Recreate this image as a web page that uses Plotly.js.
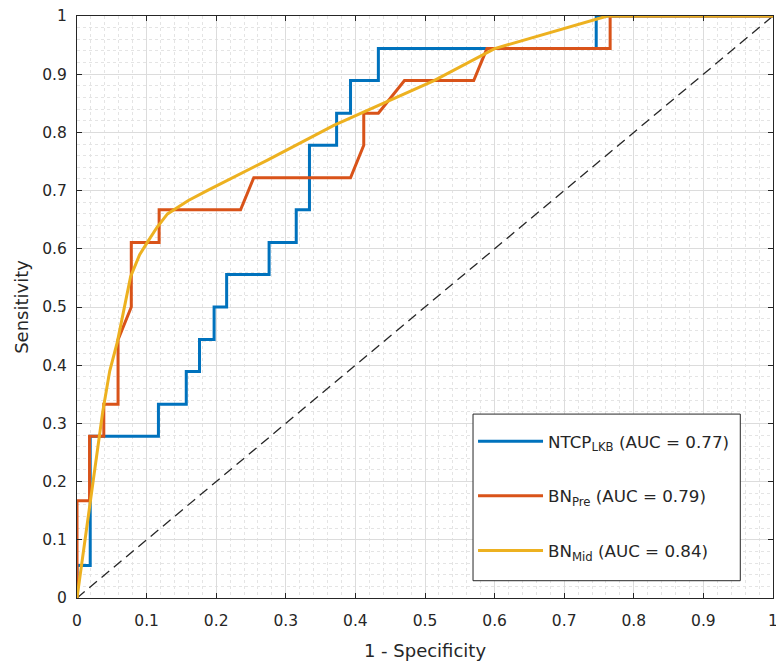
<!DOCTYPE html>
<html>
<head>
<meta charset="utf-8">
<script src="https://cdn.plot.ly/plotly-3.0.1.min.js"></script>
<style>html,body{margin:0;padding:0;background:#fff;}#chart{width:776px;height:662px;}</style>
</head>
<body>
<div id="chart"></div>
<script>
// ROC curve data (1 - Specificity, Sensitivity)
var lkbX = [0, 0, 0.019, 0.019, 0.117, 0.117, 0.157, 0.157, 0.176, 0.176, 0.197, 0.197, 0.215, 0.215, 0.276, 0.276, 0.315, 0.315, 0.334, 0.334, 0.373, 0.373, 0.393, 0.393, 0.433, 0.433, 0.746, 0.746, 1];
var lkbY = [0, 0.056, 0.056, 0.278, 0.278, 0.333, 0.333, 0.389, 0.389, 0.444, 0.444, 0.5, 0.5, 0.556, 0.556, 0.611, 0.611, 0.667, 0.667, 0.778, 0.778, 0.833, 0.833, 0.889, 0.889, 0.944, 0.944, 1, 1];

var preX = [0, 0, 0.018, 0.018, 0.0385, 0.0385, 0.059, 0.059, 0.078, 0.078, 0.118, 0.118, 0.235, 0.254, 0.393, 0.412, 0.412, 0.433, 0.4705, 0.570, 0.589, 0.766, 0.766, 1];
var preY = [0, 0.167, 0.167, 0.278, 0.278, 0.333, 0.333, 0.444, 0.5, 0.611, 0.611, 0.667, 0.667, 0.722, 0.722, 0.778, 0.833, 0.833, 0.889, 0.889, 0.944, 0.944, 1, 1];

var midX = [0, 0.037, 0.047, 0.058, 0.077, 0.09, 0.101, 0.115, 0.13, 0.16, 0.187, 0.273, 0.369, 0.513, 0.6, 0.762, 1];
var midY = [0, 0.32, 0.39, 0.44, 0.552, 0.59, 0.611, 0.637, 0.66, 0.683, 0.70, 0.752, 0.812, 0.889, 0.944, 1, 1];

var refX = [0, 1];
var refY = [0, 1];

var tickVals = [0, 0.1, 0.2, 0.3, 0.4, 0.5, 0.6, 0.7, 0.8, 0.9, 1];
var tickText = ["0", "0.1", "0.2", "0.3", "0.4", "0.5", "0.6", "0.7", "0.8", "0.9", "1"];

var seriesNames = ["NTCP<sub>LKB</sub> (AUC = 0.77)", "BN<sub>Pre</sub> (AUC = 0.79)", "BN<sub>Mid</sub> (AUC = 0.84)"];

var FONT = 'DejaVu Sans, Verdana, sans-serif';

var traces = [
  {x: refX, y: refY, mode: 'lines', showlegend: false, hoverinfo: 'skip',
   line: {color: '#262626', width: 1.3, dash: '10px,6px'}},
  {x: lkbX, y: lkbY, mode: 'lines', name: seriesNames[0], legendgroup: 'a',
   line: {color: '#0072BD', width: 3}},
  {x: preX, y: preY, mode: 'lines', name: seriesNames[1], legendgroup: 'b',
   line: {color: '#D95319', width: 3}},
  {x: midX, y: midY, mode: 'lines', name: seriesNames[2], legendgroup: 'c',
   line: {color: '#EDB120', width: 3}}
];

var axisCommon = {
  range: [0, 1], tickvals: tickVals, ticktext: tickText,
  showline: true, linecolor: '#262626', linewidth: 1, mirror: 'ticks',
  ticks: 'inside', ticklen: 5, tickcolor: '#262626', tickwidth: 1,
  showgrid: true, gridcolor: '#dcdcdc', gridwidth: 1, zeroline: false,
  ticklabeloverflow: 'allow',
  tickfont: {family: FONT, size: 15.5, color: '#262626'},
  minor: {dtick: 0.02, showgrid: true, gridcolor: '#e4e4e4', griddash: 'dot', gridwidth: 1}
};

var layout = {
  width: 776, height: 662,
  margin: {l: 76.5, r: 3.3, t: 15.5, b: 64},
  paper_bgcolor: '#ffffff', plot_bgcolor: '#ffffff',
  font: {family: FONT, color: '#262626'},
  xaxis: Object.assign({}, axisCommon, {
    ticklabelstandoff: 8,
    title: {text: '1 - Specificity', font: {family: FONT, size: 18, color: '#262626'}, standoff: 15}
  }),
  yaxis: Object.assign({}, axisCommon, {
    ticklabelstandoff: 6,
    title: {text: 'Sensitivity', font: {family: FONT, size: 18, color: '#262626'}, standoff: 8}
  }),
  // legend box frame
  shapes: [{
    type: 'rect', xref: 'paper', yref: 'paper', layer: 'above',
    x0: 0.569, x1: 0.953, y0: 0.0297, y1: 0.316,
    fillcolor: '#ffffff', line: {color: '#262626', width: 1}
  }],
  showlegend: true,
  legend: {
    x: 0.569, y: 0.2993, xanchor: 'left', yanchor: 'top',
    bgcolor: 'rgba(0,0,0,0)', borderwidth: 0,
    font: {family: FONT, size: 16.7, color: '#262626'},
    itemwidth: 65, tracegroupgap: 30, traceorder: 'grouped'
  }
};

Plotly.newPlot('chart', traces, layout, {displayModeBar: false, staticPlot: true});
</script>
</body>
</html>
